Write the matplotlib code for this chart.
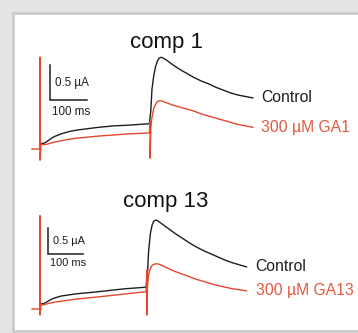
import matplotlib
matplotlib.use("Agg")
import matplotlib.pyplot as plt
from matplotlib.patches import Rectangle

plt.rcParams['font.family'] = ['Liberation Sans', 'DejaVu Sans']

# ---- recorded currents (µA, relative to holding level) vs time (ms) ----
# comp 1
t_c1_ctrl = [3, 10, 20, 30, 40, 60, 80, 100, 130, 160, 200, 240, 280, 298,
             302, 305, 310, 315, 320, 325, 330, 335, 345, 360, 380, 400, 420,
             440, 460, 480, 500, 520, 540, 560, 580]
i_c1_ctrl = [0.08, 0.08, 0.11, 0.15, 0.18, 0.22, 0.25, 0.27, 0.29, 0.31, 0.33,
             0.34, 0.355, 0.36, 0.55, 0.85, 1.05, 1.18, 1.26, 1.30, 1.31, 1.30,
             1.27, 1.21, 1.14, 1.08, 1.02, 0.97, 0.93, 0.88, 0.84, 0.80, 0.77,
             0.75, 0.73]
t_c1_ga = [-22, 0, 0, 0, 3, 10, 20, 40, 60, 80, 100, 130, 160, 200, 240, 280,
           298, 300, 300, 302, 305, 310, 315, 320, 327, 335, 345, 360, 380, 400,
           420, 440, 460, 480, 500, 520, 540, 560, 580]
i_c1_ga = [0.0, 0.0, 1.31, -0.16, 0.07, 0.06, 0.07, 0.10, 0.12, 0.14, 0.155,
           0.17, 0.185, 0.20, 0.215, 0.225, 0.23, 0.39, -0.13, 0.30, 0.45, 0.58,
           0.64, 0.68, 0.69, 0.68, 0.66, 0.63, 0.60, 0.57, 0.54, 0.50, 0.47,
           0.44, 0.41, 0.38, 0.35, 0.33, 0.31]

# comp 13
t_c13_ctrl = [3, 10, 20, 30, 40, 60, 80, 100, 130, 160, 200, 240, 280, 298,
              302, 305, 310, 315, 320, 325, 330, 340, 360, 380, 400, 420, 440,
              460, 480, 500, 520, 540, 560, 580]
i_c13_ctrl = [0.10, 0.10, 0.14, 0.18, 0.21, 0.25, 0.27, 0.29, 0.31, 0.33, 0.36,
              0.39, 0.41, 0.42, 0.70, 1.10, 1.45, 1.62, 1.69, 1.71, 1.70, 1.65,
              1.55, 1.45, 1.36, 1.27, 1.19, 1.12, 1.06, 1.00, 0.94, 0.89, 0.85,
              0.81]
t_c13_ga = [-22, 0, 0, 0, 3, 10, 20, 40, 60, 80, 100, 130, 160, 200, 240, 280,
            298, 300, 300, 302, 305, 310, 315, 320, 328, 335, 345, 360, 380,
            400, 420, 440, 460, 480, 500, 520, 540, 560, 580]
i_c13_ga = [0.0, 0.0, 1.79, -0.115, 0.08, 0.08, 0.10, 0.13, 0.15, 0.17, 0.19,
            0.21, 0.23, 0.26, 0.29, 0.32, 0.33, 0.75, -0.115, 0.45, 0.65, 0.78,
            0.84, 0.86, 0.87, 0.86, 0.83, 0.78, 0.72, 0.67, 0.62, 0.57, 0.53,
            0.49, 0.45, 0.42, 0.39, 0.37, 0.35]

titles = ["comp 1", "comp 13"]
control_label = "Control"
drug_labels = ["300 µM GA1", "300 µM GA13"]
scale_ms = 100
scale_uA = 0.5

BLACK = "#1e1e1e"
RED = "#e4472d"
RED_TXT = "#e05a40"

W, H = 358, 333
fig = plt.figure(figsize=(W / 100, H / 100), dpi=100)
fig.patch.set_facecolor("#e4e4e4")
fig.patches.append(Rectangle((13 / W, 2 / H), (W - 12) / W, 318 / H,
                             transform=fig.transFigure, facecolor="white",
                             edgecolor="#cbcbcb", linewidth=2.0, zorder=-5))


def panel(t0_px, base_px, px_ms, px_ua):
    """Full-figure transparent axes whose data units map onto the trace area."""
    ax = fig.add_axes([0, 0, 1, 1])
    ax.set_xlim(-t0_px / px_ms, (W - t0_px) / px_ms)
    ax.set_ylim((base_px - H) / px_ua, base_px / px_ua)
    ax.axis("off")
    ax.patch.set_alpha(0)
    return ax


panels = [
    dict(ax=panel(40, 149, 0.367, 70), ctrl=(t_c1_ctrl, i_c1_ctrl),
         ga=(t_c1_ga, i_c1_ga), bar=(27, 0.70), lbl_t=602, fs_bar=8.4,
         title_y=48),
    dict(ax=panel(40, 309, 0.356, 52), ctrl=(t_c13_ctrl, i_c13_ctrl),
         ga=(t_c13_ga, i_c13_ga), bar=(22, 1.06), lbl_t=606, fs_bar=7.9,
         title_y=207),
]

for k, p in enumerate(panels):
    ax = p["ax"]
    ax.plot(*p["ctrl"], color=BLACK, lw=1.0, zorder=3)
    ax.plot(*p["ga"], color=RED, lw=1.0, zorder=4)

    # scale bar
    bx, by = p["bar"]
    ax.plot([bx, bx, bx + scale_ms], [by + scale_uA, by, by],
            color=BLACK, lw=1.1, solid_joinstyle="miter", zorder=3)
    ax.text(bx + 0.14 * scale_ms, by + 0.48 * scale_uA, f"{scale_uA} µA",
            fontsize=p["fs_bar"], color=BLACK, va="center", ha="left")
    ax.text(bx + 0.05 * scale_ms, by - 0.34 * scale_uA, f"{scale_ms} ms",
            fontsize=p["fs_bar"], color=BLACK, va="center", ha="left")

    # trace labels at the end of each trace
    ax.text(p["lbl_t"], p["ctrl"][1][-1], control_label, fontsize=11.3,
            color=BLACK, va="center", ha="left")
    ax.text(p["lbl_t"], p["ga"][1][-1], drug_labels[k], fontsize=11.3,
            color=RED_TXT, va="center", ha="left")

    fig.text(166 / W, 1 - p["title_y"] / H, titles[k], fontsize=16,
             color="#111111", ha="center", va="baseline")

fig.savefig("out.png", dpi=100, facecolor=fig.get_facecolor())
